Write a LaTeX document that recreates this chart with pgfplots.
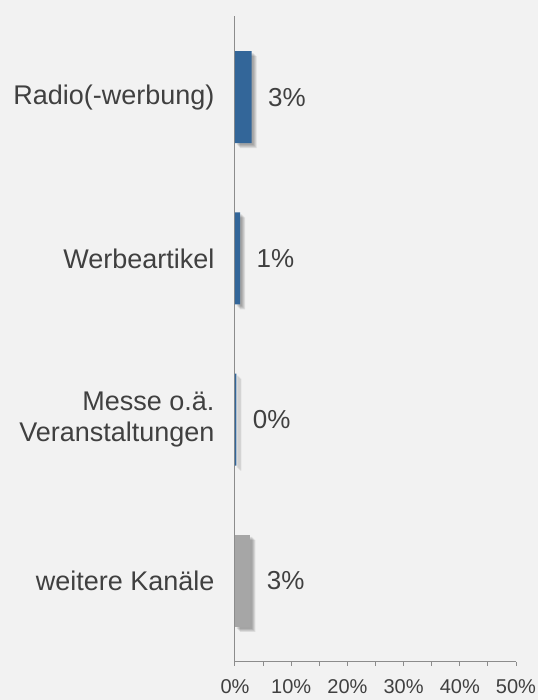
\documentclass[border=0pt]{standalone}
\usepackage{pgfplots}
\pgfplotsset{compat=1.18}
\usepackage{pgfplotstable}
\usepackage{fontspec}
\setmainfont{Liberation Sans}
\definecolor{bg}{HTML}{F2F2F2}
\definecolor{barblue}{HTML}{336699}
\definecolor{bargray}{HTML}{A6A6A6}
\definecolor{txt}{HTML}{404040}
\definecolor{axisgray}{HTML}{8C8C8C}

\pgfplotstableread{
y x
0 2.95
1 0.9
2 0.25
}\bluedata
\pgfplotstableread{
y x
3 2.75
}\graydata
\pgfplotstableread{
y x
0 2.95
1 0.9
2 0.25
3 2.75
}\alldata

\pgfplotsset{
 shadowbar/.style={fill=black, draw=none, fill opacity=0.09, forget plot},
 lbl/.style={nodes near coords={\pgfmathprintnumber[fixed,precision=0]{\pgfplotspointmeta}\%},
   point meta=x,
   every node near coord/.append style={font=\fontsize{26}{30}\selectfont, text=txt, anchor=west, xshift=13pt, fill opacity=1}},
}

\begin{document}
\begin{tikzpicture}
\fill[bg] (-235pt,-38.5pt) rectangle (303pt,661.5pt);
\begin{axis}[
 at={(0pt,0pt)}, anchor=south west,
 scale only axis, width=281pt, height=645pt,
 xbar, bar width=92pt, bar shift=0pt,
 xmin=0, xmax=50, ymin=-0.5, ymax=3.5, y dir=reverse,
 axis x line=bottom, axis y line=left,
 axis line style={axisgray, line width=1pt, -},
 xtick={0,10,...,50}, minor x tick num=1,
 tick align=outside, major tick length=4pt, minor tick length=4pt,
 x tick style={axisgray, line width=1pt},
 ytick={0,1,2,3}, y tick style={draw=none},
 yticklabels={Radio(-werbung), Werbeartikel, {Messe o.ä.\\Veranstaltungen}, weitere Kanäle},
 yticklabel style={align=right, font=\fontsize{27}{31}\selectfont, text=txt, xshift=-13pt},
 xticklabel={\pgfmathprintnumber{\tick}\%},
 xticklabel style={font=\fontsize{20}{24}\selectfont, text=txt, yshift=-10pt},
 /pgf/number format/assume math mode=true,
 clip=false,
]
\addplot[shadowbar, xshift=2pt, yshift=-2pt] table[x=x,y=y] {\alldata};
\addplot[shadowbar, xshift=3pt, yshift=-3pt] table[x=x,y=y] {\alldata};
\addplot[shadowbar, xshift=4pt, yshift=-4pt] table[x=x,y=y] {\alldata};
\addplot[shadowbar, xshift=5pt, yshift=-5pt] table[x=x,y=y] {\alldata};
\addplot[fill=barblue, draw=none, lbl] table[x=x,y=y] {\bluedata};
\addplot[fill=bargray, draw=none, lbl] table[x=x,y=y] {\graydata};
\end{axis}
\end{tikzpicture}
\end{document}
